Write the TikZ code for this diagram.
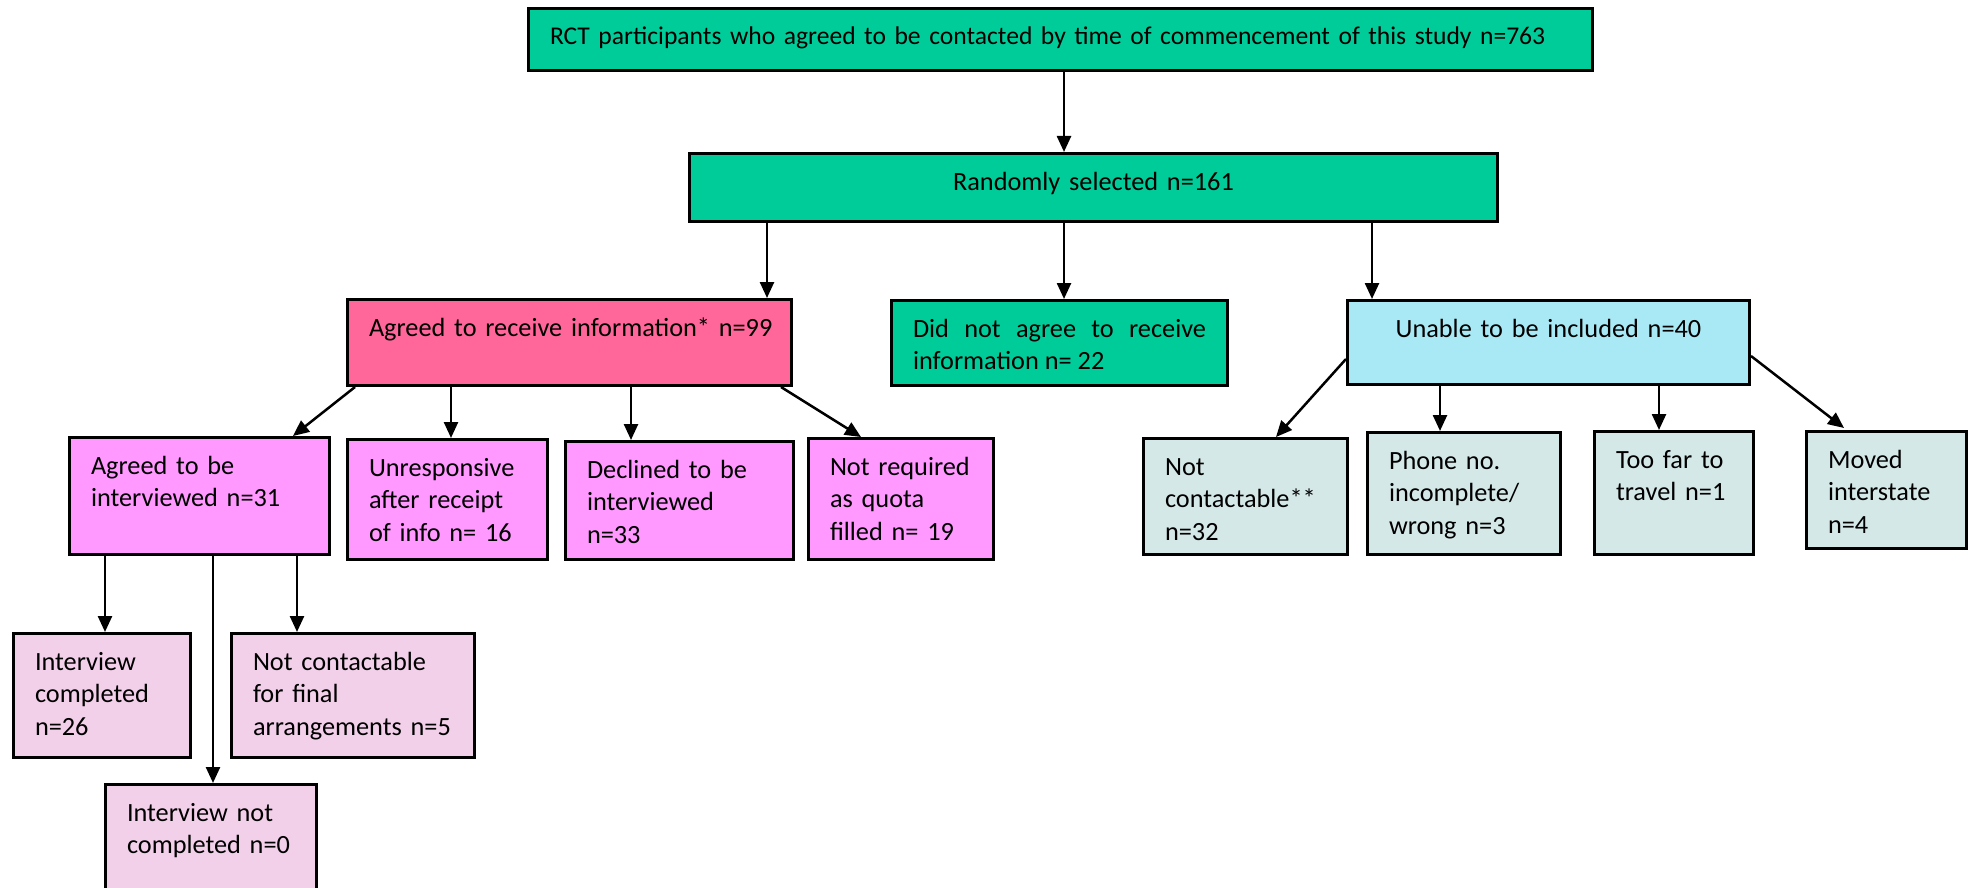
\documentclass[tikz,border=0pt]{standalone}
\usepackage{fontspec}
\setmainfont{Carlito}
\usetikzlibrary{arrows.meta}
\definecolor{grn}{HTML}{00CC99}
\definecolor{rosered}{HTML}{FF6699}
\definecolor{mauve}{HTML}{FF99FF}
\definecolor{blush}{HTML}{F3D0EA}
\definecolor{skyb}{HTML}{A9E9F5}
\definecolor{mist}{HTML}{D5E8E8}

\begin{document}
\begin{tikzpicture}[x=1pt,y=-1pt,
  bx/.style={draw=black, line width=3pt, anchor=north west, inner ysep=0pt,
    inner xsep=21.5pt, align=left, font=\fontsize{26.3}{32.5}\selectfont,
    text height=36.5pt},
  arr/.style={line width=2.5pt, -{Triangle[length=16pt,width=14pt]}}]
\useasboundingbox (0,0) rectangle (1968,888);

% top level
\node[bx, fill=grn, font=\fontsize{25.6}{32}\selectfont, text width=1021pt,
      text depth=25.5pt] (rct) at (527,7)
  {\mbox{RCT participants who agreed to be contacted by time of commencement of this study n=763}};
\node[bx, fill=grn, align=center, text width=765pt, text depth=31.5pt] (rs) at (688,152)
  {Randomly selected n=161};

% second level
\node[bx, fill=rosered, text width=401pt, text depth=49.5pt] (ari) at (346,298)
  {\mbox{Agreed to receive information* n=99}};
\node[bx, fill=grn, align=justify, text width=293pt, text depth=48.5pt] (dna) at (890,299)
  {Did not agree to receive \mbox{information} n= 22};
\node[bx, fill=skyb, align=center, text width=359pt, text depth=47.5pt] (uni) at (1346,299)
  {Unable to be included n=40};

% outcomes of those who received information
\node[bx, fill=mauve, text width=217pt, text depth=80.5pt] (atbi) at (68,436)
  {Agreed to be\\interviewed n=31};
\node[bx, fill=mauve, text width=157pt, text depth=83.5pt] (unr) at (346,438)
  {Unresponsive\\after receipt\\of info n= 16};
\node[bx, fill=mauve, text width=185pt, text depth=81.5pt] (dec) at (564,440)
  {Declined to be\\interviewed\\n=33};
\node[bx, fill=mauve, text width=142pt, text depth=84.5pt] (nrq) at (807,437)
  {Not required\\as quota\\filled n= 19};

% interview outcomes
\node[bx, fill=blush, text width=134pt, text depth=87.5pt] (ic) at (12,632)
  {Interview\\completed\\n=26};
\node[bx, fill=blush, text width=200pt, text depth=87.5pt] (ncf) at (230,632)
  {Not contactable\\for final\\arrangements n=5};
\node[bx, fill=blush, text width=168pt, text depth=83.5pt] (inc) at (104,783)
  {Interview not\\completed n=0};

% reasons for exclusion
\node[bx, fill=mist, text width=161pt, text depth=79.5pt] (nc) at (1142,437)
  {Not\\contactable**\\n=32};
\node[bx, fill=mist, text width=150pt, text depth=85.5pt] (ph) at (1366,431)
  {Phone no.\\incomplete/\\wrong n=3};
\node[bx, fill=mist, text width=116pt, text depth=86.5pt] (tf) at (1593,430)
  {Too far to\\travel n=1};
\node[bx, fill=mist, text width=117pt, text depth=80.5pt] (mi) at (1805,430)
  {Moved\\interstate\\n=4};

% connectors
\coordinate (t1) at ([xshift=537pt]rct.south west);
\draw[arr] (t1) -- (t1 |- rs.north);

\coordinate (r1) at ([xshift=79pt]rs.south west);
\coordinate (r2) at ([xshift=376pt]rs.south west);
\coordinate (r3) at ([xshift=684pt]rs.south west);
\draw[arr] (r1) -- (r1 |- ari.north);
\draw[arr] (r2) -- (r2 |- dna.north);
\draw[arr] (r3) -- (r3 |- uni.north);

\coordinate (a2) at ([xshift=105pt]ari.south west);
\coordinate (a3) at ([xshift=285pt]ari.south west);
\draw[arr] ([xshift=9pt]ari.south west) -- ([xshift=-38pt]atbi.north east);
\draw[arr] (a2) -- (a2 |- unr.north);
\draw[arr] (a3) -- (a3 |- dec.north);
\draw[arr] ([xshift=-12pt]ari.south east) -- ([xshift=54pt]nrq.north west);

\coordinate (b1) at ([xshift=37pt]atbi.south west);
\coordinate (b2) at ([xshift=145pt]atbi.south west);
\coordinate (b3) at ([xshift=229pt]atbi.south west);
\draw[arr] (b1) -- (b1 |- ic.north);
\draw[arr] (b2) -- (b2 |- inc.north);
\draw[arr] (b3) -- (b3 |- ncf.north);

\coordinate (u2) at ([xshift=94pt]uni.south west);
\coordinate (u3) at ([xshift=313pt]uni.south west);
\draw[arr] ([yshift=27pt]uni.south west) -- ([xshift=-73pt]nc.north east);
\draw[arr] (u2) -- (u2 |- ph.north);
\draw[arr] (u3) -- (u3 |- tf.north);
\draw[arr] ([yshift=30pt]uni.south east) -- ([xshift=39pt,yshift=2pt]mi.north west);
\end{tikzpicture}
\end{document}
